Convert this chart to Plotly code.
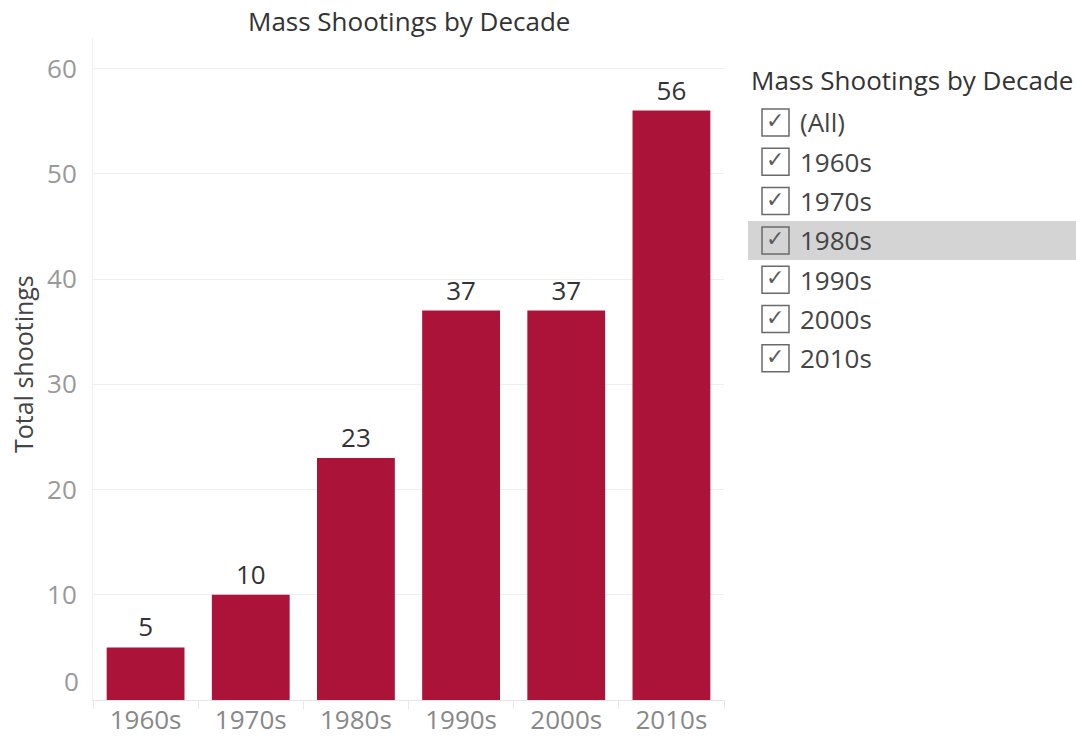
import plotly.graph_objects as go

# ---- data ----
decades = ["1960s", "1970s", "1980s", "1990s", "2000s", "2010s"]
shootings = [5, 10, 23, 37, 37, 56]
y_ticks = [0, 10, 20, 30, 40, 50, 60]
filter_items = ["(All)", "1960s", "1970s", "1980s", "1990s", "2000s", "2010s"]
highlighted_item = "1980s"

chart_title = "Mass Shootings by Decade"
y_title = "Total shootings"
filter_title = "Mass Shootings by Decade"

# ---- layout constants ----
W, H = 1076, 738
L, R, T, B = 93, 352, 38, 38
PW, PH = W - L - R, H - T - B
FONT = "Open Sans"
FS = 26
BAR = "#AB1339"


def px(x):
    return (x - L) / PW


def py(y):
    return (H - B - y) / PH


fig = go.Figure(
    go.Bar(
        x=decades,
        y=shootings,
        marker=dict(color=BAR, line=dict(width=0)),
        text=[str(v) for v in shootings],
        textposition="outside",
        textfont=dict(family=FONT, size=FS, color="#333333"),
        cliponaxis=False,
        hoverinfo="x+y",
    )
)

shapes = []
annotations = []

# chart title
annotations.append(dict(
    text=chart_title, xref="paper", yref="paper", x=0.5, y=py(21),
    showarrow=False, xanchor="center", yanchor="middle",
    font=dict(family=FONT, size=FS, color="#333333"),
))

# y axis title
annotations.append(dict(
    text=y_title, xref="paper", yref="paper", x=px(23), y=py(364),
    showarrow=False, xanchor="center", yanchor="middle", textangle=-90,
    font=dict(family=FONT, size=25, color="#444444"),
))

# the "0" tick label sits slightly above the baseline
annotations.append(dict(
    text=str(y_ticks[0]), xref="paper", yref="paper", x=px(81), y=py(681),
    showarrow=False, xanchor="right", yanchor="middle",
    font=dict(family=FONT, size=FS, color="#999999"),
))

# filter panel title
annotations.append(dict(
    text=filter_title, xref="paper", yref="paper", x=px(749), y=py(80),
    showarrow=False, xanchor="left", yanchor="middle",
    font=dict(family=FONT, size=FS, color="#333333"),
))

row0, row_step = 122.5, 39.3
for i, item in enumerate(filter_items):
    cy = row0 + i * row_step
    if item == highlighted_item:
        shapes.append(dict(
            type="rect", xref="paper", yref="paper",
            x0=px(748), x1=px(1076), y0=py(cy - 19.5), y1=py(cy + 19.5),
            fillcolor="#d4d4d4", line=dict(width=0), layer="below",
        ))
    shapes.append(dict(
        type="rect", xref="paper", yref="paper",
        x0=px(762), x1=px(789), y0=py(cy - 13.5), y1=py(cy + 13.5),
        fillcolor="rgba(255,255,255,0)", line=dict(color="#6a6a6a", width=1.5),
        layer="above",
    ))
    annotations.append(dict(
        text="✓", xref="paper", yref="paper", x=px(775.5), y=py(cy - 2),
        showarrow=False, xanchor="center", yanchor="middle",
        font=dict(family="DejaVu Sans", size=22, color="#5a5a5a"),
    ))
    annotations.append(dict(
        text=item, xref="paper", yref="paper", x=px(798), y=py(cy),
        showarrow=False, xanchor="left", yanchor="middle",
        font=dict(family=FONT, size=FS, color="#444444"),
    ))

fig.update_layout(
    width=W, height=H,
    margin=dict(l=L, r=R, t=T, b=B, pad=0),
    paper_bgcolor="white", plot_bgcolor="white",
    bargap=0.26,
    showlegend=False,
    shapes=shapes,
    annotations=annotations,
    font=dict(family=FONT),
    xaxis=dict(
        type="category",
        automargin=False,
        showgrid=False,
        showline=True, linecolor="#e6e6e6", linewidth=1,
        ticks="outside", tickson="boundaries", ticklen=8, tickcolor="#e6e6e6",
        ticklabelstandoff=-3,
        tickfont=dict(family=FONT, size=FS, color="#888888"),
        fixedrange=True,
    ),
    yaxis=dict(
        automargin=False,
        range=[0, 62.9],
        tickvals=y_ticks,
        ticktext=[""] + [str(v) for v in y_ticks[1:]],
        showgrid=True, gridcolor="#efefef", gridwidth=1,
        zeroline=False,
        showline=True, linecolor="#efefef", linewidth=1,
        ticks="", ticklabelstandoff=10,
        tickfont=dict(family=FONT, size=FS, color="#999999"),
        fixedrange=True,
    ),
)

fig.write_html(
    "out.html",
    config={"displayModeBar": False},
    post_script="document.body.style.margin='0';document.body.style.overflow='hidden';",
)
